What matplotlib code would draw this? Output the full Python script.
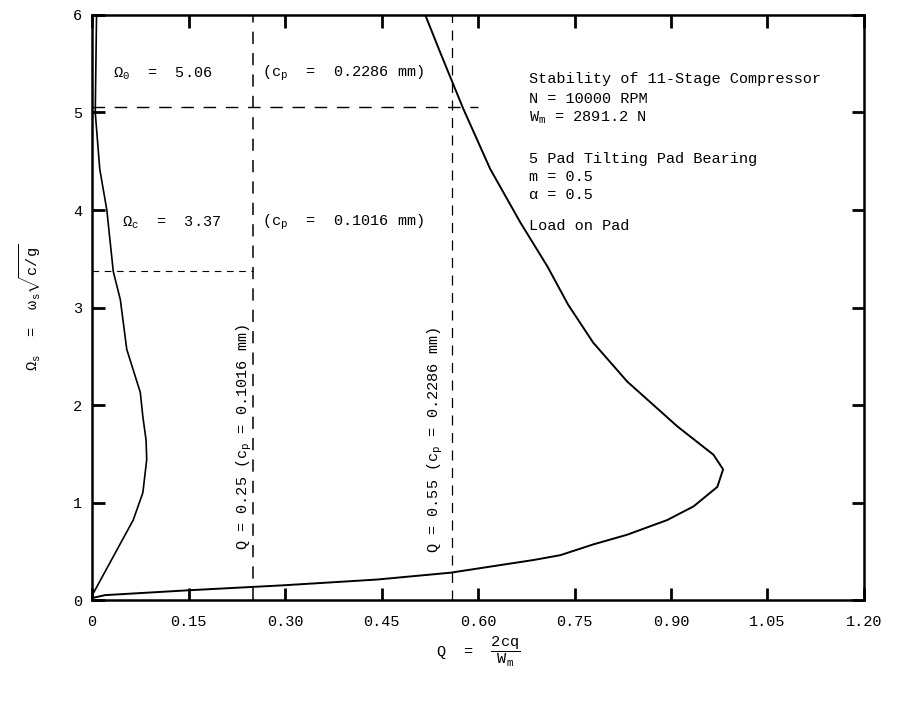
import matplotlib
matplotlib.use("Agg")
import matplotlib.pyplot as plt

plt.rcParams["font.family"] = ["Liberation Mono", "DejaVu Sans"]
plt.rcParams["mathtext.fontset"] = "custom"
plt.rcParams["mathtext.rm"] = "Liberation Mono"
plt.rcParams["mathtext.it"] = "Liberation Mono"
plt.rcParams["mathtext.default"] = "regular"

# stability curve, c_p = 0.1016 mm
q_small = [0.0, 0.002, 0.064, 0.079, 0.085, 0.084, 0.079, 0.075, 0.054,
           0.044, 0.033, 0.023, 0.012, 0.005, 0.006, 0.007]
w_small = [0.05, 0.07, 0.82, 1.10, 1.44, 1.64, 1.88, 2.13, 2.57,
           3.08, 3.37, 4.00, 4.42, 5.00, 5.50, 6.00]

# stability curve, c_p = 0.2286 mm
q_large = [0.0, 0.02, 0.15, 0.295, 0.443, 0.557, 0.686, 0.728, 0.779, 0.832,
           0.894, 0.935, 0.972, 0.981, 0.966, 0.910, 0.832, 0.779, 0.740,
           0.708, 0.666, 0.619, 0.577, 0.541, 0.518]
w_large = [0.02, 0.05, 0.10, 0.15, 0.21, 0.28, 0.41, 0.46, 0.57, 0.67,
           0.82, 0.96, 1.16, 1.34, 1.49, 1.78, 2.24, 2.64, 3.03,
           3.42, 3.87, 4.42, 5.04, 5.62, 6.00]

# operating points
q_ops = [0.25, 0.56]
omega_thresh = [5.06, 3.37]

x_ticks = [0, 0.15, 0.30, 0.45, 0.60, 0.75, 0.90, 1.05, 1.20]
x_labels = ["0", "0.15", "0.30", "0.45", "0.60", "0.75", "0.90", "1.05", "1.20"]
y_ticks = [0, 1, 2, 3, 4, 5, 6]

info_lines = [
    (5.34, "Stability of 11-Stage Compressor"),
    (5.14, "N = 10000 RPM"),
    (4.95, "W$_m$ = 2891.2 N"),
    (4.52, "5 Pad Tilting Pad Bearing"),
    (4.34, "m = 0.5"),
    (4.15, "\u03b1 = 0.5"),
    (3.84, "Load on Pad"),
]

fig = plt.figure(figsize=(8.97, 7.04), dpi=100)
ax = fig.add_axes([0.1026, 0.1477, 0.8606, 0.831])

ax.plot(q_small, w_small, color="black", lw=1.2)
ax.plot(q_large, w_large, color="black", lw=1.4)

# dashed reference lines
ax.plot([q_ops[0], q_ops[0]], [0, 6], color="black", lw=1.1, ls=(0, (8, 6)))
ax.plot([q_ops[1], q_ops[1]], [0, 6], color="black", lw=0.9, ls=(0, (8, 6)))
ax.plot([0, 0.60], [omega_thresh[0], omega_thresh[0]], color="black", lw=1.0, ls=(0, (9, 7)))
ax.plot([0, q_ops[0]], [omega_thresh[1], omega_thresh[1]], color="black", lw=0.8, ls=(0, (6, 5)))

ax.set_xlim(0, 1.2)
ax.set_ylim(0, 6)
ax.set_xticks(x_ticks)
ax.set_xticklabels(x_labels)
ax.set_yticks(y_ticks)
ax.tick_params(direction="in", length=9, width=2, top=True, right=True,
               labelsize=11, color="black")
ax.tick_params(axis="x", pad=11)
ax.tick_params(axis="y", pad=7)
for sp in ax.spines.values():
    sp.set_linewidth(1.8)

fs = 11
ax.text(0.033, 5.40, "$\u03a9_0$  =  5.06", fontsize=fs, va="center")
ax.text(0.264, 5.40, "(c$_p$  =  0.2286 mm)", fontsize=fs, va="center")
ax.text(0.047, 3.87, "$\u03a9_c$  =  3.37", fontsize=fs, va="center")
ax.text(0.264, 3.87, "(c$_p$  =  0.1016 mm)", fontsize=fs, va="center")

ax.text(0.236, 1.67, "Q = 0.25 (c$_p$ = 0.1016 mm)", fontsize=fs,
        rotation=90, ha="center", va="center")
ax.text(0.533, 1.64, "Q = 0.55 (c$_p$ = 0.2286 mm)", fontsize=fs,
        rotation=90, ha="center", va="center")

for y, s in info_lines:
    ax.text(0.68, y, s, fontsize=fs, va="center")

ax.set_xlabel(r"Q  =  $\dfrac{2cq}{W_m}$", fontsize=fs, labelpad=4)
ax.set_ylabel(r"$\Omega_s$  =  $\omega_s\sqrt{c/g}$", fontsize=fs, labelpad=22)

fig.savefig("out.png", dpi=100)
